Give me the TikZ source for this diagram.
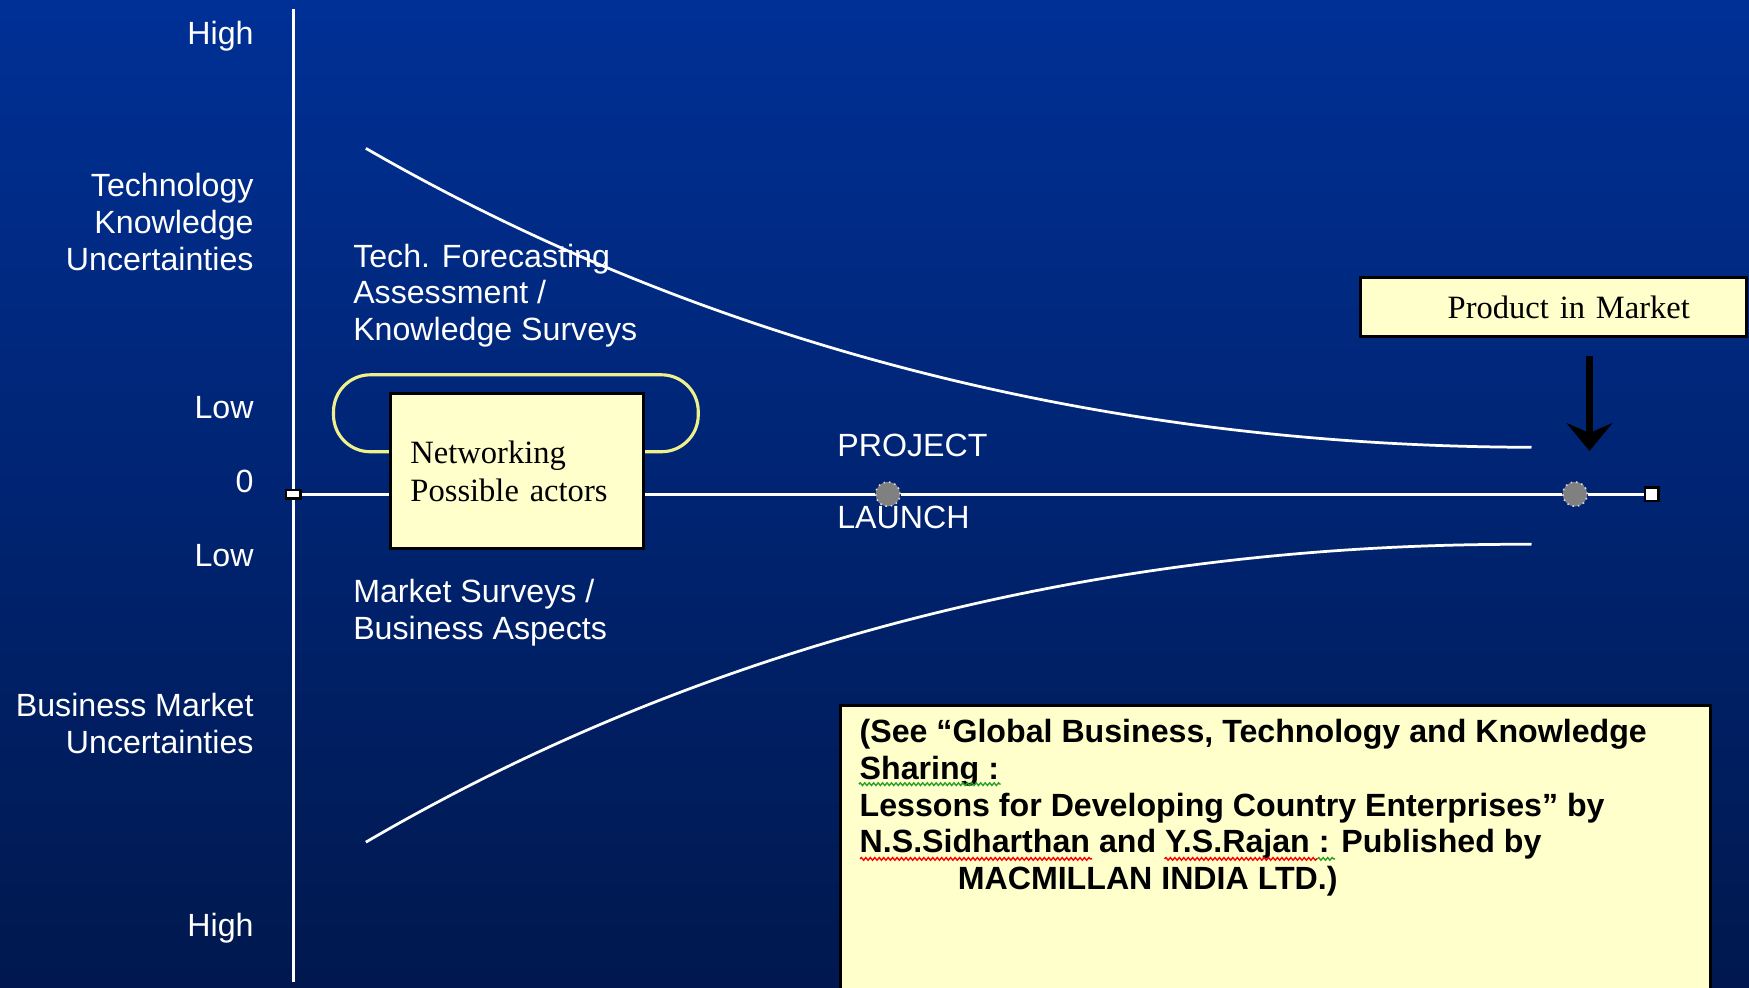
\documentclass[tikz,border=0pt]{standalone}
\usepackage{fontspec}
\setmainfont{Liberation Serif}
\setsansfont{Liberation Sans}
\usepackage{xcolor}
\usepackage{tikz}
\usetikzlibrary{arrows.meta, decorations.pathmorphing}

\definecolor{bgtop}{RGB}{0,48,150}
\definecolor{bgbot}{RGB}{0,24,78}
\definecolor{notefill}{RGB}{255,255,204}
\definecolor{loopline}{RGB}{240,240,140}
\definecolor{dotgray}{RGB}{128,128,128}
\definecolor{spellgreen}{RGB}{40,160,40}

\tikzset{
  axisline/.style={white, line width=0.8pt},
  curveline/.style={white, line width=0.7pt},
  axislabel/.style={text=white, font=\sffamily\fontsize{8.2}{9.4}\selectfont, inner sep=0pt},
  notebox/.style={draw=black, fill=notefill, line width=0.8pt},
  serifbox/.style={notebox, font=\fontsize{8.3}{9.7}\selectfont},
  endmark/.style={draw=black, fill=white, inner sep=0pt, line width=0.6pt},
  milestone/.style={circle, fill=dotgray, draw=white!75!dotgray, densely dotted, line width=0.4pt, minimum size=2.2mm, inner sep=0pt},
  bigarrow/.style={-{Stealth[length=2.5mm,width=4.1mm,inset=0.9mm]}, line width=1.7pt, black},
  spellmark/.style={line width=0.35pt, decorate, decoration={snake, segment length=0.4mm, amplitude=0.12mm}},
}

\begin{document}
\begin{tikzpicture}[x=0.1mm, y=-0.1mm]
    \useasboundingbox (0,0) rectangle (1568,885);
    \shade[top color=bgtop, bottom color=bgbot] (0,0) rectangle (1568,885);

    \coordinate (ytop) at (263,8);
    \coordinate (ybot) at (263,880);
    \draw[axisline] (ytop) -- (ybot);

    \node[axislabel, anchor=east] (hightop) at (228,32) {High};
    \node[axislabel, anchor=east, align=right] (techunc) at (228,199) {Technology\\Knowledge\\Uncertainties};
    \node[axislabel, anchor=east] (lowtop) at (228,365) {Low};
    \node[axislabel, anchor=east] (zero) at (228,432) {0};
    \node[axislabel, anchor=east] (lowbot) at (228,498) {Low};
    \node[axislabel, anchor=east, align=right] (busunc) at (228,648.5) {Business Market\\Uncertainties};
    \node[axislabel, anchor=east] (highbot) at (228,832) {High};

    \node[axislabel, anchor=west, align=left] (techsurv) at (316,265) {Tech. Forecasting\\Assessment /\\Knowledge Surveys};
    \node[axislabel, anchor=west, align=left] (marksurv) at (316,549) {Market Surveys /\\Business Aspects};

    \draw[curveline] (328,133) .. controls (600,290) and (950,400) .. (1373,401);
    \draw[curveline] (328,755) .. controls (600,596) and (950,486) .. (1373,488);

    \draw[loopline, line width=0.8pt, rounded corners=3.3mm] (299,405) rectangle (626,336);
    \node[serifbox, minimum height=13.9mm, text width=19.1mm, inner xsep=1.8mm, align=left] (net) at (463.5,422.5) {Networking\\Possible actors};

    \node[endmark, minimum width=1.3mm, minimum height=0.8mm] (o) at (263,443) {};
    \node[endmark, minimum size=1.2mm] (end) at (1481,443) {};
    \node[milestone] (launch) at (796,443) {};
    \node[milestone] (market) at (1412,443) {};

    \draw[axisline] (o) -- (o -| net.west);
    \draw[axisline] (o -| net.east) -- (launch) -- (market) -- (end);

    \node[axislabel, anchor=west] (project) at (750,399) {PROJECT};
    \node[axislabel, anchor=west] (launchlbl) at (750,464) {LAUNCH};

    \node[serifbox, text width=24.4mm, inner xsep=5.1mm, align=right, minimum height=5.3mm] (prod) at (1393,275.5) {Product in Market};
    \draw[bigarrow] ([xshift=1.3mm,yshift=-1.6mm]prod.south -| market) -- ([xshift=1.3mm,yshift=2.7mm]market.north);

    \node[notebox, anchor=north west, minimum width=78mm, minimum height=26mm] (refbox) at (752,631) {};
    \node[anchor=north west, inner sep=0pt, align=left, font=\sffamily\bfseries\fontsize{8.2}{9.4}\selectfont] (cite) at ([xshift=1.8mm,yshift=-1.3mm]refbox.north west)
        {(See “Global Business, Technology and Knowledge\\
         Sharing :\\
         Lessons for Developing Country Enterprises” by\\
         N.S.Sidharthan and Y.S.Rajan : Published by\\
         \hspace*{8.8mm}MACMILLAN INDIA LTD.)};

    \draw[spellmark, spellgreen] (770,703) -- (897,703);
    \draw[spellmark, red] (771,770) -- (979,770);
    \draw[spellmark, red] (1044,770) -- (1181,770);
    \draw[spellmark, spellgreen] (1181,770) -- (1197,770);
\end{tikzpicture}
\end{document}
